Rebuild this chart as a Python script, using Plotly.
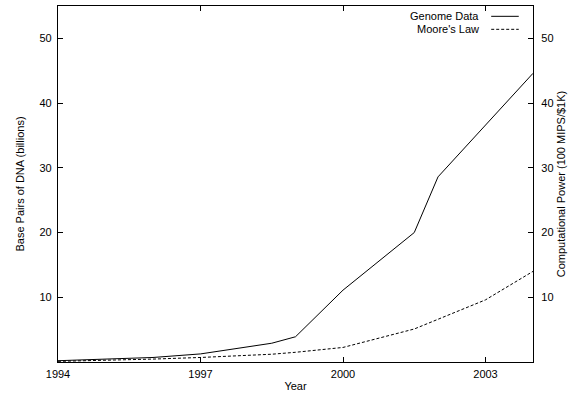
import plotly.graph_objects as go

genome_years = [1994, 1995, 1996, 1997, 1998.5, 1999, 2000, 2001.5, 2002, 2004]
genome_vals = [0.2, 0.4, 0.7, 1.25, 2.9, 3.9, 11.1, 20.0, 28.6, 44.6]

moore_years = [1994, 1995, 1996, 1997, 1998.5, 1999, 2000, 2001.5, 2003, 2004]
moore_vals = [0.1, 0.25, 0.45, 0.7, 1.2, 1.5, 2.25, 5.1, 9.6, 14.0]

x_ticks = [1994, 1997, 2000, 2003]
y_ticks = [10, 20, 30, 40, 50]

FONT = "Liberation Sans, Arial, sans-serif"

fig = go.Figure()
fig.add_trace(go.Scatter(x=genome_years, y=genome_vals, mode="lines",
                         name="Genome Data", line=dict(color="black", width=1),
                         showlegend=False))
fig.add_trace(go.Scatter(x=moore_years, y=moore_vals, mode="lines",
                         name="Moore's Law", yaxis="y2",
                         line=dict(color="black", width=1, dash="3px,2px"),
                         showlegend=False))

# legend (text left of line sample, gnuplot style)
legend_items = [("Genome Data", "solid"), ("Moore's Law", "3px,2px")]
for i, (label, dash) in enumerate(legend_items):
    yp = 0.971 - i * 0.0365
    fig.add_annotation(xref="paper", yref="paper", x=0.89, y=yp, text=label,
                       showarrow=False, xanchor="right", yanchor="middle",
                       font=dict(family=FONT, size=11, color="black"))
    fig.add_shape(type="line", xref="paper", yref="paper",
                  x0=0.912, x1=0.97, y0=yp, y1=yp,
                  line=dict(color="black", width=1, dash=dash))

axis_common = dict(
    ticks="inside", ticklen=5, tickcolor="black", tickwidth=1,
    showline=True, linecolor="black", linewidth=1.3,
    showgrid=False, zeroline=False, automargin=False,
    tickfont=dict(family=FONT, size=11, color="black"),
)

fig.update_layout(
    width=583, height=394,
    margin=dict(l=58, r=50, t=6, b=32),
    paper_bgcolor="white", plot_bgcolor="white",
    font=dict(family=FONT, size=11, color="black"),
    xaxis=dict(range=[1994, 2004], tickvals=x_ticks, mirror="ticks",
               ticklabelstandoff=2,
               title=dict(text="Year", standoff=2, font=dict(family=FONT, size=11)),
               **axis_common),
    yaxis=dict(range=[0, 55], tickvals=y_ticks, side="left",
               ticklabelstandoff=3,
               title=dict(text="Base Pairs of DNA (billions)", standoff=12,
                          font=dict(family=FONT, size=11)),
               **axis_common),
    yaxis2=dict(range=[0, 55], tickvals=y_ticks, side="right", overlaying="y",
                ticklabelstandoff=5,
                title=dict(text="Computational Power (100 MIPS/$1K)", standoff=4,
                           font=dict(family=FONT, size=11)),
                **axis_common),
)

fig.write_html("out.html", config={"displayModeBar": False},
               post_script="document.body.style.margin='0px';document.body.style.overflow='hidden';")
